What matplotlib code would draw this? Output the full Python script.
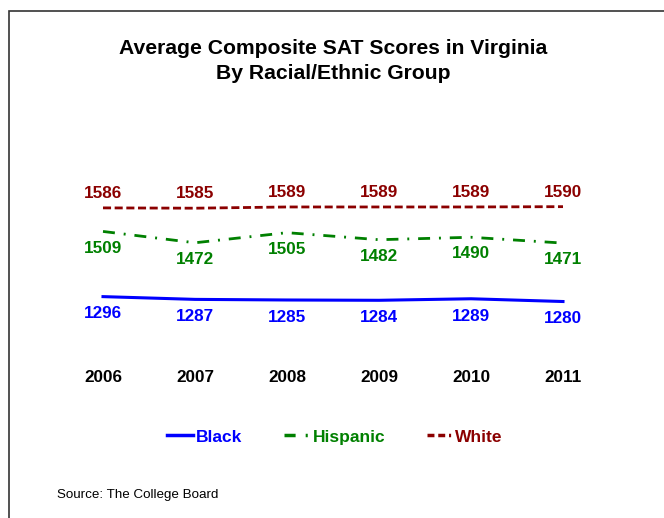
import matplotlib.pyplot as plt
import matplotlib.transforms as mtransforms
from matplotlib.lines import Line2D
from matplotlib.patches import Rectangle

plt.rcParams["font.family"] = ["Liberation Sans", "DejaVu Sans"]

years = [2006, 2007, 2008, 2009, 2010, 2011]
black = [1296, 1287, 1285, 1284, 1289, 1280]
hispanic = [1509, 1472, 1505, 1482, 1490, 1471]
white = [1586, 1585, 1589, 1589, 1589, 1590]

c_black = "#0000FF"
c_hisp = "#008000"
c_white = "#8B0000"

W, H = 664, 518
fig = plt.figure(figsize=(W / 100, H / 100), dpi=100)

# frame around the chart area
fig.patches.append(Rectangle((9 / W, -0.1), 1.2, 1 - 11 / H + 0.1,
                             transform=fig.transFigure, fill=False,
                             edgecolor="#333333", linewidth=1.2))

# axes placed so years land on the reference pixel columns
ax = fig.add_axes([57 / W, 1 - 326 / H, (609 - 57) / W, (326 - 173) / H])
ax.set_xlim(2005.5, 2011.5)
ax.set_ylim(1200, 1700)
ax.axis("off")

ax.plot(years, white, color=c_white, lw=2, linestyle=(0, (2.9, 1.3)))
ax.plot(years, hispanic, color=c_hisp, lw=2, linestyle=(0, (4.3, 3.2, 0.7, 3.2)))
ax.plot(years, black, color=c_black, lw=2.2, linestyle="-")

for x, v in zip(years, white):
    ax.annotate(str(v), (x, v), xytext=(0, 10.5), textcoords="offset points",
                ha="center", va="center", color=c_white, fontsize=12.3, fontweight="bold")
for x, v in zip(years, hispanic):
    ax.annotate(str(v), (x, v), xytext=(0, -12), textcoords="offset points",
                ha="center", va="center", color=c_hisp, fontsize=12.3, fontweight="bold")
for x, v in zip(years, black):
    ax.annotate(str(v), (x, v), xytext=(0, -12.5), textcoords="offset points",
                ha="center", va="center", color=c_black, fontsize=12.3, fontweight="bold")

# year labels
trans = mtransforms.blended_transform_factory(ax.transData, fig.transFigure)
for x in years:
    ax.text(x, 1 - 377 / H, str(x), transform=trans,
            ha="center", va="center", fontsize=12.3, fontweight="bold", color="black")

fig.text(333 / W, 1 - 48 / H, "Average Composite SAT Scores in Virginia",
         ha="center", va="center", fontsize=15.2, fontweight="bold")
fig.text(333 / W, 1 - 74 / H, "By Racial/Ethnic Group",
         ha="center", va="center", fontsize=15.2, fontweight="bold")

handles = [
    Line2D([], [], color=c_black, lw=2.5, linestyle="-"),
    Line2D([], [], color=c_hisp, lw=2.5, linestyle=(0, (3.2, 2.9, 0.6, 2.9))),
    Line2D([], [], color=c_white, lw=2.5, linestyle=(0, (2, 1.1, 2, 1.1, 0.6, 1.1))),
]
leg = fig.legend(handles, ["Black", "Hispanic", "White"], loc="center",
                 bbox_to_anchor=(335 / W, 1 - 437 / H), ncol=3, frameon=False,
                 handlelength=1.5, handletextpad=0.15, columnspacing=2.4,
                 prop={"size": 12.5, "weight": "bold"})
for t, c in zip(leg.get_texts(), [c_black, c_hisp, c_white]):
    t.set_color(c)

fig.text(57 / W, 1 - 495 / H, "Source: The College Board", ha="left", va="center",
         fontsize=9.6, color="black")

fig.savefig("out.png", dpi=100, facecolor="white")
